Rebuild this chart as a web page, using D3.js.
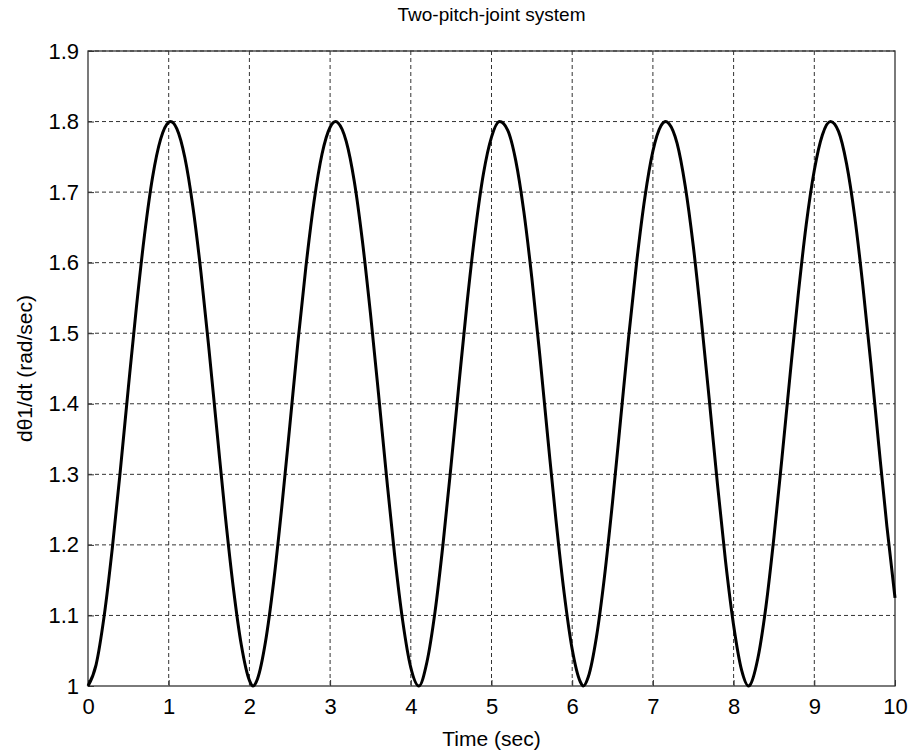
<!DOCTYPE html>
<html>
<head>
<meta charset="utf-8">
<script src="https://cdn.jsdelivr.net/npm/d3@7"></script>
<style>
    body { margin: 0; background: #fff; }
</style>
</head>
<body>
<div id="chart"></div>
<script>
// time samples (sec)
const timeValues = [
    0, 0.1, 0.2, 0.3, 0.4, 0.5, 0.6, 0.7, 0.8, 0.9,
    1.0, 1.023, 1.1, 1.2, 1.3, 1.4, 1.5, 1.6, 1.7, 1.8, 1.9,
    2.0, 2.046, 2.1, 2.2, 2.3, 2.4, 2.5, 2.6, 2.7, 2.8, 2.9,
    3.0, 3.069, 3.1, 3.2, 3.3, 3.4, 3.5, 3.6, 3.7, 3.8, 3.9,
    4.0, 4.1, 4.2, 4.3, 4.4, 4.5, 4.6, 4.7, 4.8, 4.9,
    5.0, 5.1, 5.2, 5.3, 5.4, 5.5, 5.6, 5.7, 5.8, 5.9,
    6.0, 6.1, 6.138, 6.2, 6.3, 6.4, 6.5, 6.6, 6.7, 6.8, 6.9,
    7.0, 7.1, 7.161, 7.2, 7.3, 7.4, 7.5, 7.6, 7.7, 7.8, 7.9,
    8.0, 8.1, 8.184, 8.2, 8.3, 8.4, 8.5, 8.6, 8.7, 8.8, 8.9,
    9.0, 9.1, 9.2, 9.3, 9.4, 9.5, 9.6, 9.7, 9.8, 9.9,
    10.0
];

// joint rate d(theta1)/dt (rad/sec)
const rateValues = [
    1.000, 1.030, 1.099, 1.194, 1.305, 1.423, 1.537, 1.639, 1.721, 1.775,
    1.799, 1.800, 1.790, 1.749, 1.679, 1.586, 1.476, 1.359, 1.243, 1.140, 1.058,
    1.008, 1.000, 1.010, 1.063, 1.147, 1.252, 1.368, 1.486, 1.594, 1.686, 1.754,
    1.792, 1.800, 1.798, 1.772, 1.715, 1.631, 1.528, 1.414, 1.296, 1.185, 1.092,
    1.026, 1.000, 1.034, 1.105, 1.202, 1.314, 1.432, 1.546, 1.646, 1.726,
    1.778, 1.800, 1.788, 1.745, 1.673, 1.578, 1.467, 1.349, 1.234, 1.132,
    1.052, 1.006, 1.000, 1.013, 1.069, 1.155, 1.261, 1.378, 1.495, 1.602, 1.692,
    1.758, 1.794, 1.800, 1.797, 1.769, 1.709, 1.624, 1.519, 1.404, 1.286, 1.177,
    1.086, 1.022, 1.000, 1.001, 1.039, 1.112, 1.211, 1.324, 1.441, 1.554, 1.654,
    1.731, 1.781, 1.800, 1.786, 1.740, 1.666, 1.569, 1.458, 1.340, 1.226,
    1.125
];

const xTicks = [0, 1, 2, 3, 4, 5, 6, 7, 8, 9, 10];
const yTicks = [1, 1.1, 1.2, 1.3, 1.4, 1.5, 1.6, 1.7, 1.8, 1.9];

class LineChart {
    constructor(config) {
        this.config = config;
        return this;
    }

    getDimensions() {
        const { dimensions, margin } = this.config;
        return {
            width: dimensions.width - margin.left - margin.right,
            height: dimensions.height - margin.top - margin.bottom
        };
    }

    createSvg() {
        const { divId, dimensions, margin } = this.config;
        return d3.select(divId)
            .append("svg")
                .attr("width", dimensions.width)
                .attr("height", dimensions.height)
            .append("g")
                .attr("transform", "translate(" + margin.left + "," + margin.top + ")");
    }

    render() {
        const { title, labelX, labelY, style, margin } = this.config;
        const svg = this.createSvg();
        const { width, height } = this.getDimensions();

        const x = d3.scaleLinear().domain([0, 10]).range([0, width]);
        const y = d3.scaleLinear().domain([1, 1.9]).range([height, 0]);

        // grid
        svg.append("g")
            .selectAll("line")
            .data(xTicks.slice(1, -1))
            .enter().append("line")
                .attr("x1", d => x(d)).attr("x2", d => x(d))
                .attr("y1", 0).attr("y2", height)
                .attr("stroke", style.gridColor)
                .attr("stroke-width", 1)
                .attr("stroke-dasharray", style.gridDash);

        svg.append("g")
            .selectAll("line")
            .data(yTicks.slice(1))
            .enter().append("line")
                .attr("x1", 0).attr("x2", width)
                .attr("y1", d => y(d)).attr("y2", d => y(d))
                .attr("stroke", style.gridColor)
                .attr("stroke-width", 1)
                .attr("stroke-dasharray", style.gridDash);

        // x-axis (ticks inward)
        const xAxis = svg.append("g")
            .attr("transform", "translate(0," + height + ")")
            .call(d3.axisBottom(x).tickValues(xTicks).tickFormat(d3.format("d"))
                .tickSizeInner(-6).tickSizeOuter(0).tickPadding(12));
        xAxis.select(".domain").remove();
        xAxis.selectAll("line").attr("stroke", style.axisColor);
        xAxis.selectAll("text")
            .attr("font-size", labelX.tickLabelSize)
            .attr("font-family", style.font)
            .attr("fill", "#000");

        // y-axis
        const yAxis = svg.append("g")
            .call(d3.axisLeft(y).tickValues(yTicks).tickFormat(d => d3.format("")(+d.toFixed(1)))
                .tickSizeInner(-6).tickSizeOuter(0).tickPadding(9));
        yAxis.select(".domain").remove();
        yAxis.selectAll("line").attr("stroke", style.axisColor);
        yAxis.selectAll("text")
            .attr("font-size", labelY.tickLabelSize)
            .attr("font-family", style.font)
            .attr("fill", "#000");

        // box
        svg.append("rect")
            .attr("width", width)
            .attr("height", height)
            .attr("fill", "none")
            .attr("stroke", style.axisColor)
            .attr("stroke-width", 1.3);

        // curve
        const line = d3.line()
            .x((d, i) => x(timeValues[i]))
            .y(d => y(d))
            .curve(d3.curveMonotoneX);

        svg.append("path")
            .datum(rateValues)
            .attr("d", line)
            .attr("fill", "none")
            .attr("stroke", "#000")
            .attr("stroke-width", style.lineWidth)
            .attr("stroke-linejoin", "round");

        // title
        svg.append("text")
            .attr("x", width / 2)
            .attr("y", title.adjust)
            .attr("text-anchor", "middle")
            .attr("font-size", title.size)
            .attr("font-family", style.font)
            .text(title.text);

        // x-axis label
        svg.append("text")
            .attr("x", width / 2)
            .attr("y", height + labelX.adjust)
            .attr("text-anchor", "middle")
            .attr("font-size", labelX.size)
            .attr("font-family", style.font)
            .text(labelX.title);

        // y-axis label
        svg.append("text")
            .attr("transform", "rotate(-90)")
            .attr("x", -height / 2)
            .attr("y", -margin.left + labelY.adjust)
            .attr("text-anchor", "middle")
            .attr("font-size", labelY.size)
            .attr("font-family", style.font)
            .text(labelY.title);
    }
}

new LineChart({
    divId: "#chart",
    dimensions: { width: 910, height: 752 },
    margin: { top: 51, right: 15, bottom: 66, left: 88 },
    title: { text: "Two-pitch-joint system", size: 19, adjust: -30 },
    labelX: { title: "Time (sec)", size: 21, tickLabelSize: 22, adjust: 60 },
    labelY: { title: "dθ1/dt (rad/sec)", size: 21, tickLabelSize: 22, adjust: 32 },
    style: {
        font: "'Liberation Sans', Arial, sans-serif",
        axisColor: "#333",
        gridColor: "#333",
        gridDash: "4,3",
        lineWidth: 3
    }
}).render();
</script>
</body>
</html>
